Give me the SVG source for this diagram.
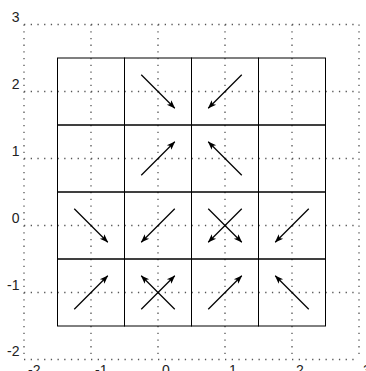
<svg xmlns="http://www.w3.org/2000/svg" width="366" height="371" viewBox="0 0 366 371">
<style>
.dot{stroke:#555;stroke-width:1.3;stroke-dasharray:1.3 5.4;fill:none}
.cell{fill:none;stroke:#000;stroke-width:1}
.arr{stroke:#000;stroke-width:1.3;fill:none;marker-end:url(#ah)}
.lbl{font-family:"Liberation Sans",Arial,sans-serif;font-size:14px;fill:#222}
.yl{text-anchor:end}
</style>
<defs>
<marker id="ah" markerUnits="userSpaceOnUse" orient="auto" refX="0" refY="0" markerWidth="12" markerHeight="12" viewBox="-10 -5 12 10" overflow="visible">
<path d="M0.5,0 L-8,-3.2 L-6,0 L-8,3.2 Z" fill="#000"/>
</marker>
</defs>
<g id="gridlines">
<path class="dot" d="M24,24.5V359.5M91,24.5V359.5M158,24.5V359.5M225,24.5V359.5M292,24.5V359.5M359,24.5V359.5"/>
<path class="dot" d="M24,24.5H359M24,91.5H359M24,158.5H359M24,225.5H359M24,292.5H359M24,359.5H359"/>
</g>
<g id="labels">
<text class="lbl yl" x="19.5" y="21.5">3</text>
<text class="lbl yl" x="19.5" y="88.5">2</text>
<text class="lbl yl" x="19.5" y="155.5">1</text>
<text class="lbl yl" x="19.5" y="222.5">0</text>
<text class="lbl yl" x="19.5" y="289.5">-1</text>
<text class="lbl yl" x="19.5" y="356">-2</text>
<text class="lbl" x="28" y="375">-2</text>
<text class="lbl" x="95" y="375">-1</text>
<text class="lbl" x="162" y="375">0</text>
<text class="lbl" x="229" y="375">1</text>
<text class="lbl" x="296" y="375">2</text>
<text class="lbl" x="363" y="375">3</text>
</g>
<g id="cells">
<g id="cell-m1-2"><rect class="cell" x="57.5" y="58" width="67" height="67"/></g>
<g id="cell-0-2"><rect class="cell" x="124.5" y="58" width="67" height="67"/></g>
<g id="cell-1-2"><rect class="cell" x="191.5" y="58" width="67" height="67"/></g>
<g id="cell-2-2"><rect class="cell" x="258.5" y="58" width="67" height="67"/></g>
<g id="cell-m1-1"><rect class="cell" x="57.5" y="125" width="67" height="67"/></g>
<g id="cell-0-1"><rect class="cell" x="124.5" y="125" width="67" height="67"/></g>
<g id="cell-1-1"><rect class="cell" x="191.5" y="125" width="67" height="67"/></g>
<g id="cell-2-1"><rect class="cell" x="258.5" y="125" width="67" height="67"/></g>
<g id="cell-m1-0"><rect class="cell" x="57.5" y="192" width="67" height="67"/></g>
<g id="cell-0-0"><rect class="cell" x="124.5" y="192" width="67" height="67"/></g>
<g id="cell-1-0"><rect class="cell" x="191.5" y="192" width="67" height="67"/></g>
<g id="cell-2-0"><rect class="cell" x="258.5" y="192" width="67" height="67"/></g>
<g id="cell-m1-m1"><rect class="cell" x="57.5" y="259" width="67" height="67"/></g>
<g id="cell-0-m1"><rect class="cell" x="124.5" y="259" width="67" height="67"/></g>
<g id="cell-1-m1"><rect class="cell" x="191.5" y="259" width="67" height="67"/></g>
<g id="cell-2-m1"><rect class="cell" x="258.5" y="259" width="67" height="67"/></g>
</g>
<g id="arrows">
<line class="arr" x1="141.25" y1="74.75" x2="174.75" y2="108.25"/>
<line class="arr" x1="241.75" y1="74.75" x2="208.25" y2="108.25"/>
<line class="arr" x1="141.25" y1="175.25" x2="174.75" y2="141.75"/>
<line class="arr" x1="241.75" y1="175.25" x2="208.25" y2="141.75"/>
<line class="arr" x1="74.25" y1="208.75" x2="107.75" y2="242.25"/>
<line class="arr" x1="174.75" y1="208.75" x2="141.25" y2="242.25"/>
<line class="arr" x1="208.25" y1="208.75" x2="241.75" y2="242.25"/>
<line class="arr" x1="241.75" y1="208.75" x2="208.25" y2="242.25"/>
<line class="arr" x1="308.75" y1="208.75" x2="275.25" y2="242.25"/>
<line class="arr" x1="74.25" y1="309.25" x2="107.75" y2="275.75"/>
<line class="arr" x1="141.25" y1="309.25" x2="174.75" y2="275.75"/>
<line class="arr" x1="174.75" y1="309.25" x2="141.25" y2="275.75"/>
<line class="arr" x1="208.25" y1="309.25" x2="241.75" y2="275.75"/>
<line class="arr" x1="308.75" y1="309.25" x2="275.25" y2="275.75"/>
</g>
</svg>
